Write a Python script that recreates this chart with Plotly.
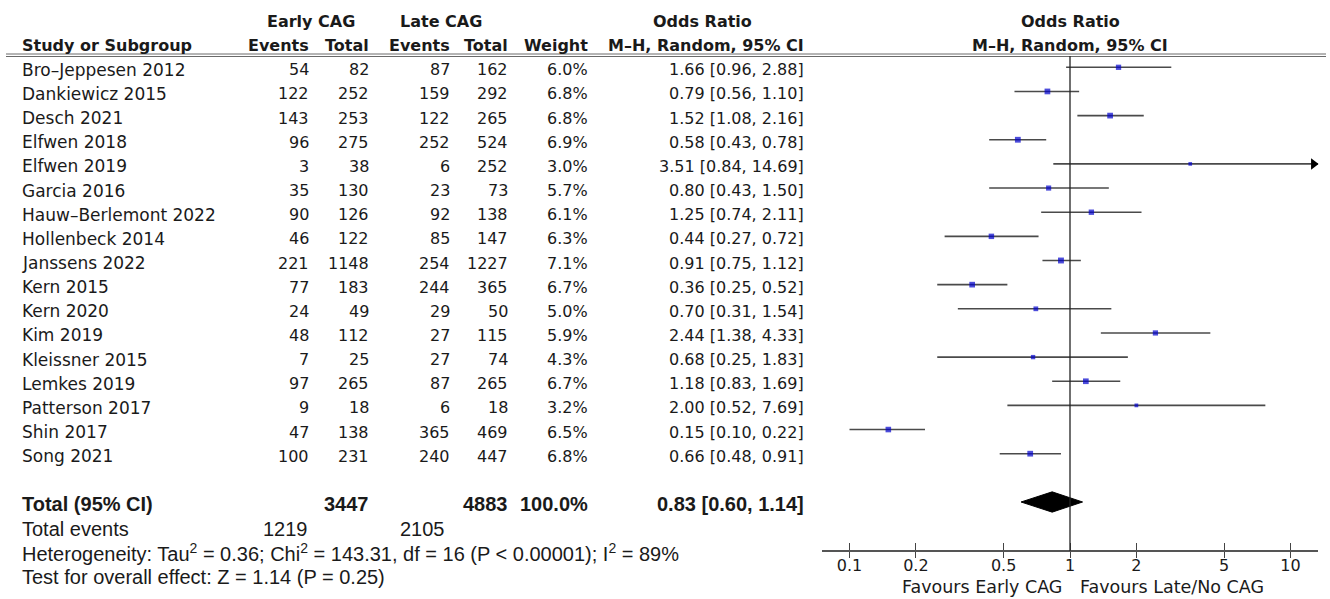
import plotly.graph_objects as go

# ---------------- data ----------------
studies = ["Bro–Jeppesen 2012", "Dankiewicz 2015", "Desch 2021", "Elfwen 2018", "Elfwen 2019",
           "Garcia 2016", "Hauw–Berlemont 2022", "Hollenbeck 2014", "Janssens 2022", "Kern 2015",
           "Kern 2020", "Kim 2019", "Kleissner 2015", "Lemkes 2019", "Patterson 2017",
           "Shin 2017", "Song 2021"]
early_events = [54, 122, 143, 96, 3, 35, 90, 46, 221, 77, 24, 48, 7, 97, 9, 47, 100]
early_total = [82, 252, 253, 275, 38, 130, 126, 122, 1148, 183, 49, 112, 25, 265, 18, 138, 231]
late_events = [87, 159, 122, 252, 6, 23, 92, 85, 254, 244, 29, 27, 27, 87, 6, 365, 240]
late_total = [162, 292, 265, 524, 252, 73, 138, 147, 1227, 365, 50, 115, 74, 265, 18, 469, 447]
weights = [6.0, 6.8, 6.8, 6.9, 3.0, 5.7, 6.1, 6.3, 7.1, 6.7, 5.0, 5.9, 4.3, 6.7, 3.2, 6.5, 6.8]
odds = [1.66, 0.79, 1.52, 0.58, 3.51, 0.80, 1.25, 0.44, 0.91, 0.36, 0.70, 2.44, 0.68, 1.18, 2.00, 0.15, 0.66]
ci_low = [0.96, 0.56, 1.08, 0.43, 0.84, 0.43, 0.74, 0.27, 0.75, 0.25, 0.31, 1.38, 0.25, 0.83, 0.52, 0.10, 0.48]
ci_high = [2.88, 1.10, 2.16, 0.78, 14.69, 1.50, 2.11, 0.72, 1.12, 0.52, 1.54, 4.33, 1.83, 1.69, 7.69, 0.22, 0.91]

total_early = 3447
total_late = 4883
total_weight = 100.0
total_or = 0.83
total_low = 0.60
total_high = 1.14
events_early = 1219
events_late = 2105
heterogeneity = "Heterogeneity: Tau<sup>2</sup> = 0.36; Chi<sup>2</sup> = 143.31, df = 16 (P &lt; 0.00001); I<sup>2</sup> = 89%"
overall = "Test for overall effect: Z = 1.14 (P = 0.25)"

tick_vals = [0.1, 0.2, 0.5, 1, 2, 5, 10]
tick_text = ["0.1", "0.2", "0.5", "1", "2", "5", "10"]

# ---------------- layout constants ----------------
W, H = 1330, 599
XR = [-1.1247, 1.1247]
YR = [22.017, -2.787]
rows = list(range(len(studies)))
TOTAL_ROW = len(studies) + 1

F1 = "DejaVu Sans"
F2 = "Liberation Sans"
S1 = 16
S_NAME = 17
S_FAV = 17.5
S2 = 20
TXT = "#1a1a1a"


def pxx(p):
    return p / W


def pxy(p):
    return 1 - p / H


fig = go.Figure()

# CI lines
xs, ys = [], []
for i in rows:
    xs += [ci_low[i], ci_high[i], None]
    ys += [i, i, None]
fig.add_trace(go.Scatter(x=xs, y=ys, mode="lines", line=dict(color="#4a4a4a", width=1.6),
                         hoverinfo="skip"))

# point estimates
fig.add_trace(go.Scatter(x=odds, y=rows, mode="markers",
                         marker=dict(symbol="square", size=[2.0 + 0.55 * w for w in weights],
                                     color="#0000cc", line=dict(width=0)),
                         hoverinfo="skip"))

# arrows for CIs beyond the axis
xmax = 10 ** XR[1]
arr_x = [10 ** (XR[1] - 0.02) for i in rows if ci_high[i] > xmax]
arr_y = [i for i in rows if ci_high[i] > xmax]
fig.add_trace(go.Scatter(x=arr_x, y=arr_y, mode="markers", cliponaxis=False,
                         marker=dict(symbol="triangle-right", size=10, color="black", line=dict(width=0)),
                         hoverinfo="skip"))

# pooled diamond
dh = 0.42
fig.add_trace(go.Scatter(x=[total_low, total_or, total_high, total_or, total_low],
                         y=[TOTAL_ROW, TOTAL_ROW - dh, TOTAL_ROW, TOTAL_ROW + dh, TOTAL_ROW],
                         mode="lines", fill="toself", fillcolor="black",
                         line=dict(color="black", width=1), hoverinfo="skip"))

# dummy trace for the second (tick) axis
fig.add_trace(go.Scatter(x=[1], y=[0], xaxis="x2", mode="markers", marker=dict(opacity=0),
                         hoverinfo="skip"))

anns = []


def add(text, xp, row, anchor, font=F1, size=S1, bold=False, yshift=-2.5):
    t = f"<b>{text}</b>" if bold else text
    anns.append(dict(text=t, x=pxx(xp), xref="paper", y=row, yref="y", xanchor=anchor,
                     yanchor="middle", showarrow=False, yshift=yshift,
                     font=dict(family=font, size=size, color=TXT)))


# headers
add("Early CAG", 311, -2, "center", bold=True)
add("Late CAG", 441, -2, "center", bold=True)
add("Odds Ratio", 702, -2, "center", bold=True)
add("Study or Subgroup", 20, -1, "left", bold=True)
add("Events", 311, -1, "right", bold=True)
add("Total", 371, -1, "right", bold=True)
add("Events", 452, -1, "right", bold=True)
add("Total", 510, -1, "right", bold=True)
add("Weight", 590, -1, "right", bold=True)
add("M–H, Random, 95% CI", 806, -1, "right", bold=True)
for r, t in [(-2, "Odds Ratio"), (-1, "M–H, Random, 95% CI")]:
    anns.append(dict(text=f"<b>{t}</b>", x=0, xref="x", y=r, yref="y", xanchor="center",
                     yanchor="middle", showarrow=False, yshift=-2.5,
                     font=dict(family=F1, size=S1, color=TXT)))

# study rows
for i in rows:
    add(studies[i], 20, i, "left", size=S_NAME)
    add(str(early_events[i]), 311, i, "right")
    add(str(early_total[i]), 371, i, "right")
    add(str(late_events[i]), 452, i, "right")
    add(str(late_total[i]), 510, i, "right")
    add(f"{weights[i]:.1f}%", 590, i, "right")
    add(f"{odds[i]:.2f} [{ci_low[i]:.2f}, {ci_high[i]:.2f}]", 806, i, "right")

# totals
add("Total (95% CI)", 20, TOTAL_ROW, "left", F2, S2, True)
add(str(total_early), 371, TOTAL_ROW, "right", F2, S2, True)
add(str(total_late), 510, TOTAL_ROW, "right", F2, S2, True)
add(f"{total_weight:.1f}%", 590, TOTAL_ROW, "right", F2, S2, True)
add(f"{total_or:.2f} [{total_low:.2f}, {total_high:.2f}]", 806, TOTAL_ROW, "right", F2, S2, True)
add("Total events", 20, TOTAL_ROW + 1, "left", F2, S2)
add(str(events_early), 310, TOTAL_ROW + 1, "right", F2, S2)
add(str(events_late), 447, TOTAL_ROW + 1, "right", F2, S2)
add(heterogeneity, 20, TOTAL_ROW + 2, "left", F2, S2)
add(overall, 20, TOTAL_ROW + 3, "left", F2, S2)

# favours labels
anns.append(dict(text="Favours Early CAG", x=0, xref="x", y=pxy(587), yref="paper",
                 xanchor="right", yanchor="middle", xshift=-6, showarrow=False,
                 font=dict(family=F1, size=S_FAV, color=TXT)))
anns.append(dict(text="Favours Late/No CAG", x=0, xref="x", y=pxy(587), yref="paper",
                 xanchor="left", yanchor="middle", xshift=8, showarrow=False,
                 font=dict(family=F1, size=S_FAV, color=TXT)))

shapes = [
    dict(type="line", xref="paper", yref="paper", x0=pxx(6), x1=pxx(1326), y0=pxy(54), y1=pxy(54),
         line=dict(color="#6a6a6a", width=1)),
    dict(type="line", xref="paper", yref="paper", x0=pxx(6), x1=pxx(1326), y0=pxy(56.5), y1=pxy(56.5),
         line=dict(color="#6a6a6a", width=1)),
    dict(type="line", xref="x", yref="paper", x0=1, x1=1, y0=pxy(551), y1=pxy(56),
         line=dict(color="#222222", width=1.3)),
]

axis_common = dict(type="log", range=XR, domain=[pxx(822), pxx(1318)], anchor="free",
                   position=pxy(551), showgrid=False, zeroline=False,
                   tickmode="array", tickvals=tick_vals, fixedrange=True)

fig.update_layout(
    width=W, height=H, margin=dict(l=0, r=0, t=0, b=0),
    paper_bgcolor="white", plot_bgcolor="white", showlegend=False,
    xaxis=dict(**axis_common, ticktext=tick_text, showline=True, linecolor="#555555", linewidth=1.5,
               ticks="inside", ticklen=7, tickwidth=1.3, tickcolor="#444444",
               tickfont=dict(family=F1, size=S1, color=TXT)),
    xaxis2=dict(**axis_common, overlaying="x", showline=False, ticks="outside", ticklen=6,
                tickwidth=1.3, tickcolor="#444444", showticklabels=False),
    yaxis=dict(range=YR, domain=[0, 1], visible=False, fixedrange=True),
    annotations=anns, shapes=shapes,
)

fig.write_html("out.html", config={"displayModeBar": False},
               post_script="document.body.style.margin='0';document.body.style.overflow='hidden';")
